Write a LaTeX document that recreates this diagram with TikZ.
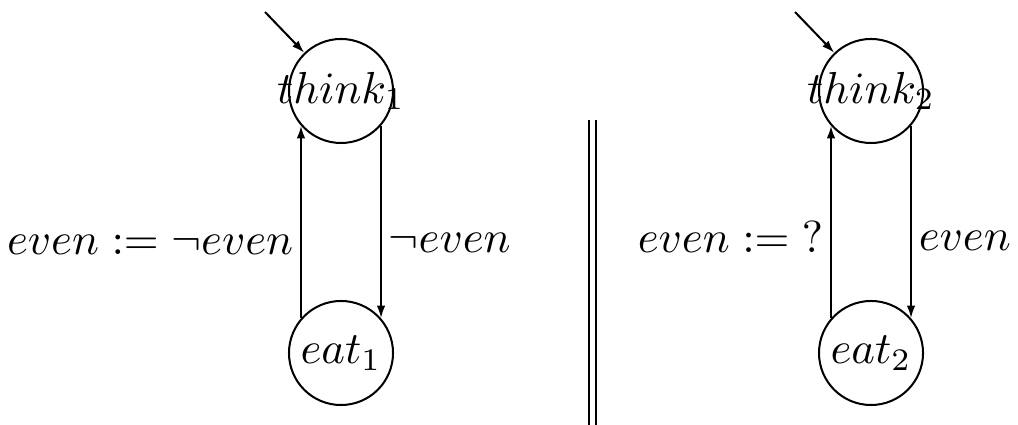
\documentclass[tikz,border=0pt]{standalone}
\usetikzlibrary{arrows.meta}
\begin{document}
\begin{tikzpicture}[x=0.223pt,y=-0.223pt,
  state/.style={circle,draw,line width=0.45pt,minimum size=23.2pt,inner sep=0pt},
  lbl/.style={inner sep=1.5pt},
  trans/.style={line width=0.45pt,-{Latex[length=2.8pt,width=1.9pt]}},
  sep/.style={line width=0.45pt}]
\useasboundingbox (0,0) rectangle (1018,425);
\node[state] (t1) at (341,91) {\makebox[0pt]{$think_1$}};
\node[state] (e1) at (341,353) {\makebox[0pt]{$eat_1$}};
\node[state] (t2) at (871,91) {\makebox[0pt]{$think_2$}};
\node[state] (e2) at (871,353) {\makebox[0pt]{$eat_2$}};
\coordinate (i1) at (265,12);
\coordinate (i2) at (795,12);
\draw[trans] (i1) -- (t1);
\draw[trans] (i2) -- (t2);
\draw[trans] (e1.139) -- node[lbl,anchor=base east,pos=0.33] {$even := \neg even$} (t1.221);
\draw[trans] (t1.319) -- node[lbl,anchor=base west,pos=0.66] {$\neg even$} (e1.41);
\draw[trans] (e2.139) -- node[lbl,anchor=base east,pos=0.34] {$even := {?}$} (t2.221);
\draw[trans] (t2.319) -- node[lbl,anchor=base west,pos=0.65] {$even$} (e2.41);
\coordinate (s1a) at (589,120);
\coordinate (s1b) at (589,425);
\coordinate (s2a) at (596,120);
\coordinate (s2b) at (596,425);
\draw[sep] (s1a) -- (s1b);
\draw[sep] (s2a) -- (s2b);
\end{tikzpicture}
\end{document}
